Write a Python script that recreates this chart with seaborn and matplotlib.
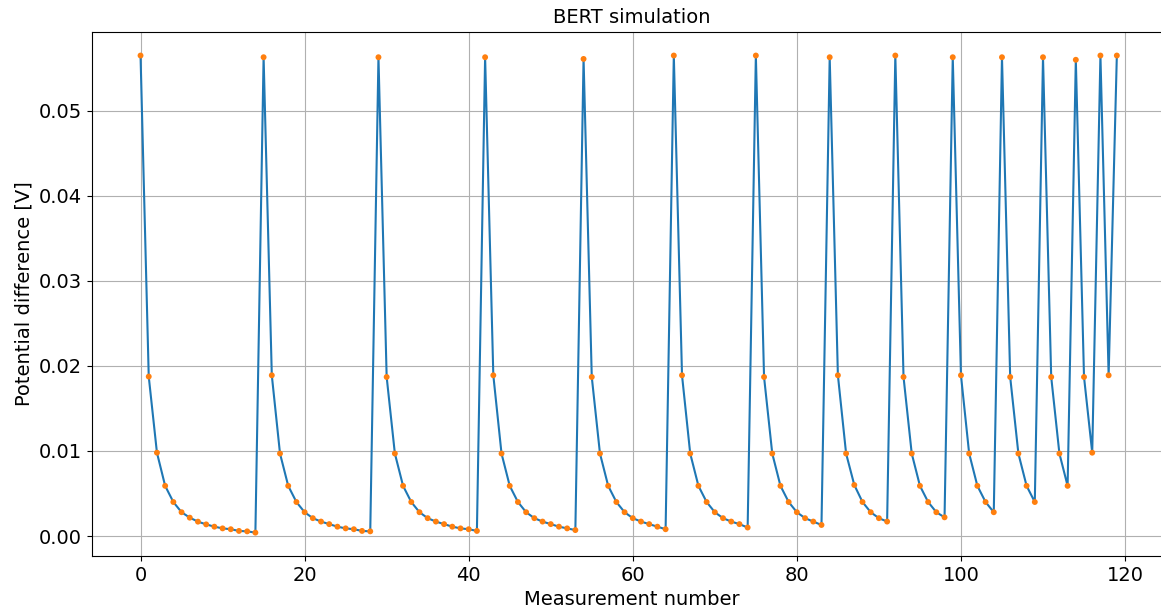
import numpy as np
import pandas as pd
import matplotlib
matplotlib.use("Agg")
import matplotlib.pyplot as plt
import seaborn as sns

# Simulated potential differences, one list per current-electrode position
seg_00 = [0.0565, 0.01875, 0.0098, 0.0059, 0.0040, 0.0028, 0.00216, 0.00169, 0.00137,
          0.0011, 0.0009, 0.0008, 0.0006, 0.00055, 0.0004]
seg_01 = [0.0563, 0.0189, 0.0097, 0.0059, 0.0040, 0.0028, 0.0021, 0.0017, 0.0014,
          0.0011, 0.0009, 0.0008, 0.0006, 0.00055]
seg_02 = [0.0563, 0.0187, 0.0097, 0.0059, 0.0040, 0.0028, 0.0021, 0.0017, 0.0014,
          0.0011, 0.0009, 0.0008, 0.0006]
seg_03 = [0.0563, 0.0189, 0.0097, 0.0059, 0.0040, 0.0028, 0.0021, 0.0017, 0.0014,
          0.0011, 0.0009, 0.0007]
seg_04 = [0.0561, 0.0187, 0.0097, 0.0059, 0.0040, 0.0028, 0.0021, 0.0017, 0.0014,
          0.0011, 0.0008]
seg_05 = [0.0565, 0.0189, 0.0097, 0.0059, 0.0040, 0.0028, 0.0021, 0.0017, 0.0014,
          0.0010]
seg_06 = [0.0565, 0.0187, 0.0097, 0.0059, 0.0040, 0.0028, 0.0021, 0.0017, 0.0013]
seg_07 = [0.0563, 0.0189, 0.0097, 0.0060, 0.0040, 0.0028, 0.0021, 0.0017]
seg_08 = [0.0565, 0.0187, 0.0097, 0.0059, 0.0040, 0.0028, 0.0022]
seg_09 = [0.0563, 0.0189, 0.0097, 0.0059, 0.0040, 0.0028]
seg_10 = [0.0563, 0.0187, 0.0097, 0.0059, 0.0040]
seg_11 = [0.0563, 0.0187, 0.0097, 0.0059]
seg_12 = [0.0560, 0.0187, 0.0098]
seg_13 = [0.0565, 0.0189]
seg_14 = [0.0565]

segments = [seg_00, seg_01, seg_02, seg_03, seg_04, seg_05, seg_06, seg_07,
            seg_08, seg_09, seg_10, seg_11, seg_12, seg_13, seg_14]

potential = np.concatenate([np.asarray(s, dtype=float) for s in segments])
df = pd.DataFrame({"measurement": np.arange(len(potential)), "potential": potential})

fig = plt.figure(figsize=(11.61, 6.10), dpi=100)
# the axes run slightly past the right edge of the figure
ax = fig.add_axes([0.079, 0.0885, 0.9296, 0.8595])

sns.lineplot(data=df, x="measurement", y="potential", ax=ax,
             color="#1f77b4", linewidth=1.5, zorder=2)
sns.scatterplot(data=df, x="measurement", y="potential", ax=ax,
                color="#ff7f0e", s=18, edgecolor="none", zorder=3)

ax.grid(True, color="#b0b0b0", linewidth=0.8)
ax.set_axisbelow(True)
ax.set_xticks([0, 20, 40, 60, 80, 100, 120])
ax.set_yticks([0.0, 0.01, 0.02, 0.03, 0.04, 0.05])
ax.set_yticklabels(["0.00", "0.01", "0.02", "0.03", "0.04", "0.05"])
ax.set_xlim(-5.95, 125.6)
ax.set_ylim(-0.00235, 0.0593)
ax.tick_params(labelsize=14)
ax.set_xlabel("Measurement number", fontsize=14)
ax.set_ylabel("Potential difference [V]", fontsize=14)
ax.set_title("BERT simulation", fontsize=14)

fig.savefig("out.png", dpi=100)
